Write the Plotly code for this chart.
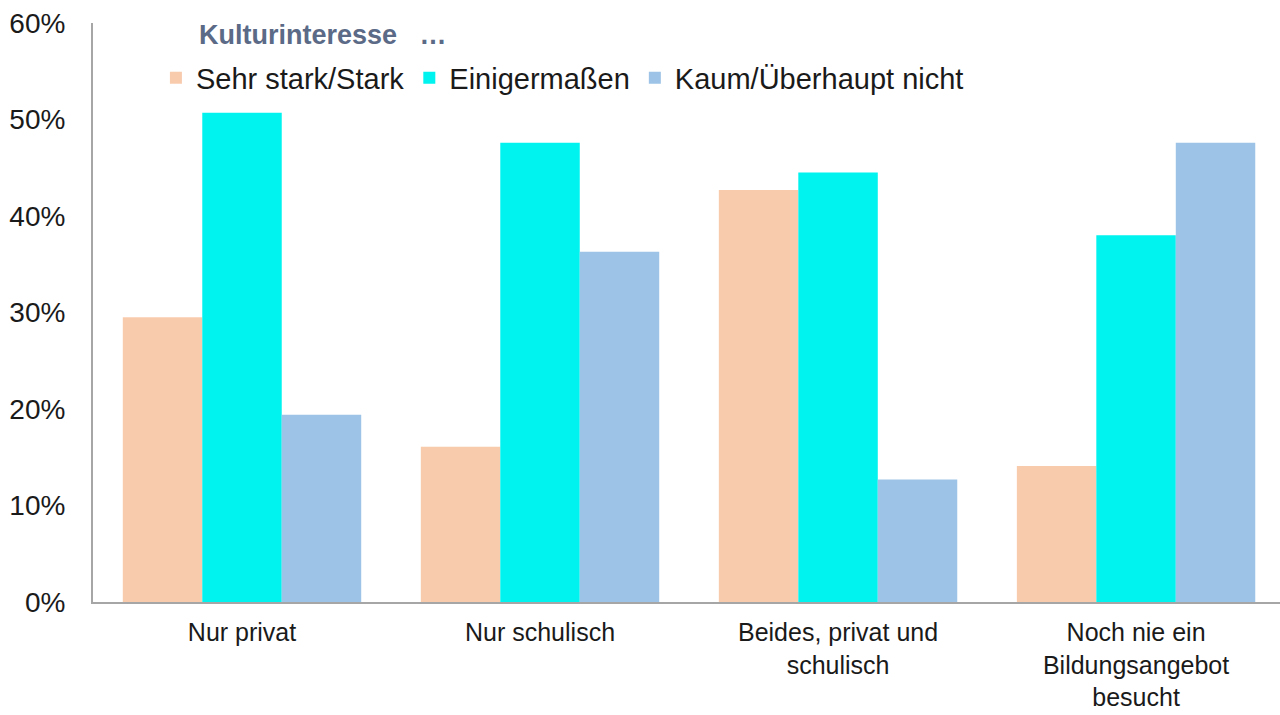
import plotly.graph_objects as go

categories = ["Nur privat", "Nur schulisch", "Beides, privat und<br>schulisch",
              "Noch nie ein<br>Bildungsangebot<br>besucht"]
series_names = ["Sehr stark/Stark", "Einigermaßen", "Kaum/Überhaupt nicht"]
sehr_stark = [29.5, 16.1, 42.7, 14.1]
einigermassen = [50.7, 47.6, 44.5, 38.0]
kaum = [19.4, 36.3, 12.7, 47.6]
y_ticks = [0, 10, 20, 30, 40, 50, 60]
y_tick_labels = ["0%", "10%", "20%", "30%", "40%", "50%", "60%"]
colors = ["#F8CBAD", "#00F3EF", "#9DC3E6"]

fig = go.Figure()
for name, vals, col in zip(series_names, [sehr_stark, einigermassen, kaum], colors):
    fig.add_trace(go.Bar(x=categories, y=vals, name=name, marker_color=col,
                         marker_line_width=0))

fig.update_layout(
    width=1280, height=715,
    paper_bgcolor="white", plot_bgcolor="white",
    margin=dict(l=93, r=0, t=23, b=113),
    barmode="group", bargap=0.2, bargroupgap=0,
    font=dict(family="Liberation Sans, Arial, sans-serif", size=28, color="#1a1a1a"),
    showlegend=True,
    legend=dict(orientation="h", x=0.053, y=0.905, xanchor="left", yanchor="middle",
                font=dict(size=29, color="#1a1a1a"), bgcolor="rgba(0,0,0,0)",
                traceorder="normal"),
    annotations=[dict(text="<b>Kulturinteresse   …</b>", xref="paper", yref="paper",
                      x=0.0876, y=0.979, xanchor="left", yanchor="middle", showarrow=False,
                      font=dict(size=27, color="#5B6A86"))],
)
fig.update_xaxes(range=[-0.5, 3.483], showline=True, linecolor="#A6A6A6", linewidth=2,
                 showgrid=False, ticks="", tickfont=dict(size=25), ticklabelstandoff=7,
                 automargin=False)
fig.update_yaxes(range=[0, 60], tickmode="array", tickvals=y_ticks, ticktext=y_tick_labels,
                 showline=True, linecolor="#A6A6A6", linewidth=2, showgrid=False, ticks="",
                 zeroline=False, tickfont=dict(size=28), ticklabelstandoff=20,
                 automargin=False)

fig.write_html("out.html", config={"displayModeBar": False},
               post_script="document.body.style.margin='0';")
